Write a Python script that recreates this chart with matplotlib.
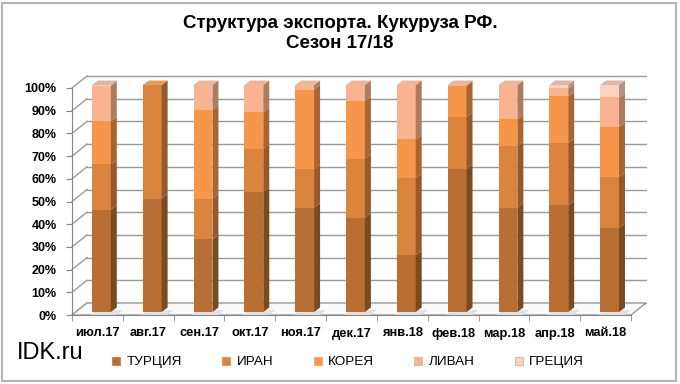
import matplotlib
matplotlib.use("Agg")
import matplotlib.pyplot as plt
from matplotlib.patches import Polygon, Rectangle
from matplotlib.lines import Line2D
from matplotlib.transforms import ScaledTranslation
import numpy as np

plt.rcParams['font.family'] = ['Liberation Sans', 'DejaVu Sans']

months = ["июл.17", "авг.17", "сен.17", "окт.17", "ноя.17", "дек.17",
          "янв.18", "фев.18", "мар.18", "апр.18", "май.18"]
series_names = ["ТУРЦИЯ", "ИРАН", "КОРЕЯ", "ЛИВАН", "ГРЕЦИЯ"]
turkey = [45, 50, 32, 53, 46, 41.5, 25, 63, 46, 47, 37]
iran = [20, 50, 18, 19, 17, 26, 34, 23, 27, 27.5, 22.5]
korea = [19, 0, 39, 16, 35, 25.5, 17, 13.5, 12, 20.5, 22]
lebanon = [15.5, 0, 11, 12, 2, 7, 24, 0.5, 15, 3.5, 13]
greece = [0.5, 0, 0, 0, 0, 0, 0, 0, 0, 1.5, 5.5]
yticks = [0, 10, 20, 30, 40, 50, 60, 70, 80, 90, 100]

series = [turkey, iran, korea, lebanon, greece]
front_cols = ["#B96F33", "#DA843E", "#F6964B", "#F9B48F", "#FBD3BE"]
side_cols = ["#7C4A20", "#97592A", "#A9652F", "#AC7B60", "#B29383"]
top_cols = ["#C98A55", "#E39E62", "#F8AD72", "#E9B79C", "#D9B8A8"]

W, H = 680, 384
fig = plt.figure(figsize=(W / 100, H / 100), dpi=100)
fig.patch.set_facecolor("white")

x0, x1, yb, yt = 72, 631, 315, 88
ax = fig.add_axes([x0 / W, (H - yb) / H, (x1 - x0) / W, (yb - yt) / H])
n = len(months)
ax.set_xlim(0, n)
ax.set_ylim(0, 100)
ax.set_facecolor("none")

ux = n / (x1 - x0)      # data units per px (x)
uy = 100 / (yb - yt)    # data units per px (y)

def shift(px, py):
    return ax.transData + ScaledTranslation(px / 100, py / 100, fig.dpi_scale_trans)

# back wall / left wall / floor
bdx, bdy = 15, 12
grid_c = "#9A9A9A"
for v in yticks:
    ax.plot([0, n], [v, v], color=grid_c, lw=1.0, transform=shift(bdx, bdy), clip_on=False, zorder=1)
    ax.plot([0, bdx * ux], [v, v + bdy * uy], color=grid_c, lw=1.0, clip_on=False, zorder=1)
floor = Polygon([(0, 0), (n, 0), (n + bdx * ux, bdy * uy), (bdx * ux, bdy * uy)],
                closed=True, facecolor="#FAFAFA", edgecolor=grid_c, lw=1.0, clip_on=False, zorder=1)
ax.add_patch(floor)

# bars
centers = np.arange(n) + 0.5
bw = 0.37
sdx, sdy = 6, 4.5
boff = shift(4, 3)
tops_idx = [max(k for k in range(len(series)) if series[k][i] > 0) for i in range(n)]
for i in range(n):
    b = 0.0
    # floor shadow
    sh = Polygon([(centers[i] - bw / 2 + 2 * ux, 0), (centers[i] + bw / 2 + 10 * ux, 0),
                  (centers[i] + bw / 2 + 16 * ux, 5 * uy), (centers[i] - bw / 2 + 8 * ux, 5 * uy)],
                 closed=True, facecolor="#E2E2E2", edgecolor="none", clip_on=False, zorder=2)
    ax.add_patch(sh)
    for k, s in enumerate(series):
        h = s[i]
        if h <= 0:
            continue
        ax.bar(centers[i], h, bw, bottom=b, color=front_cols[k], edgecolor="none",
               transform=boff, clip_on=False, zorder=3)
        xr = centers[i] + bw / 2
        side = Polygon([(xr, b), (xr + sdx * ux, b + sdy * uy), (xr + sdx * ux, b + h + sdy * uy), (xr, b + h)],
                       closed=True, facecolor=side_cols[k], edgecolor="none", transform=boff,
                       clip_on=False, zorder=3)
        ax.add_patch(side)
        if k == tops_idx[i]:
            t = b + h
            xl = centers[i] - bw / 2
            top = Polygon([(xl, t), (xr, t), (xr + sdx * ux, t + sdy * uy), (xl + sdx * ux, t + sdy * uy)],
                          closed=True, facecolor=top_cols[k], edgecolor="none", transform=boff,
                          clip_on=False, zorder=3)
            ax.add_patch(top)
        b += h

# axes styling
for sp in ["top", "right"]:
    ax.spines[sp].set_visible(False)
ax.spines["left"].set_color("#868686")
ax.spines["bottom"].set_color("#868686")
ax.set_yticks(yticks)
ax.set_yticklabels([f"{v}%" for v in yticks], fontsize=9, fontweight="bold")
ax.tick_params(axis="y", length=4, color="#868686", pad=7)
ax.set_xticks(centers)
ax.set_xticklabels(months, fontsize=9.3, fontweight="bold")
ax.tick_params(axis="x", length=0, pad=9)
ax.set_xticks(np.arange(n + 1), minor=True)
ax.tick_params(axis="x", which="minor", length=4, color="#868686")

# title
fig.text(0.5, 1 - 24 / H, "Структура экспорта. Кукуруза РФ.", ha="center", va="center",
         fontsize=13.5, fontweight="bold")
fig.text(0.5, 1 - 44 / H, "Сезон 17/18", ha="center", va="center", fontsize=13.5, fontweight="bold")

# watermark
fig.text(17 / W, 1 - 353 / H, "IDK.ru", ha="left", va="center", fontsize=17)

# legend
handles = [Line2D([], [], marker="s", linestyle="none", markersize=5.5,
                  markerfacecolor=front_cols[k], markeredgecolor=top_cols[k], markeredgewidth=0.8)
           for k in range(len(series))]
fig.legend(handles, series_names, loc="center left", bbox_to_anchor=(111 / W, 1 - 362 / H),
           ncol=5, frameon=False, fontsize=9.7, handlelength=0.8, handletextpad=0.4,
           columnspacing=2.85, borderaxespad=0, borderpad=0)

# outer frame
fig.add_artist(Rectangle((1.5 / W, 3 / H), 674 / W, 378 / H, transform=fig.transFigure,
                         fill=False, edgecolor="#B4B4B4", lw=1.5))

fig.savefig("out.png", dpi=100)
